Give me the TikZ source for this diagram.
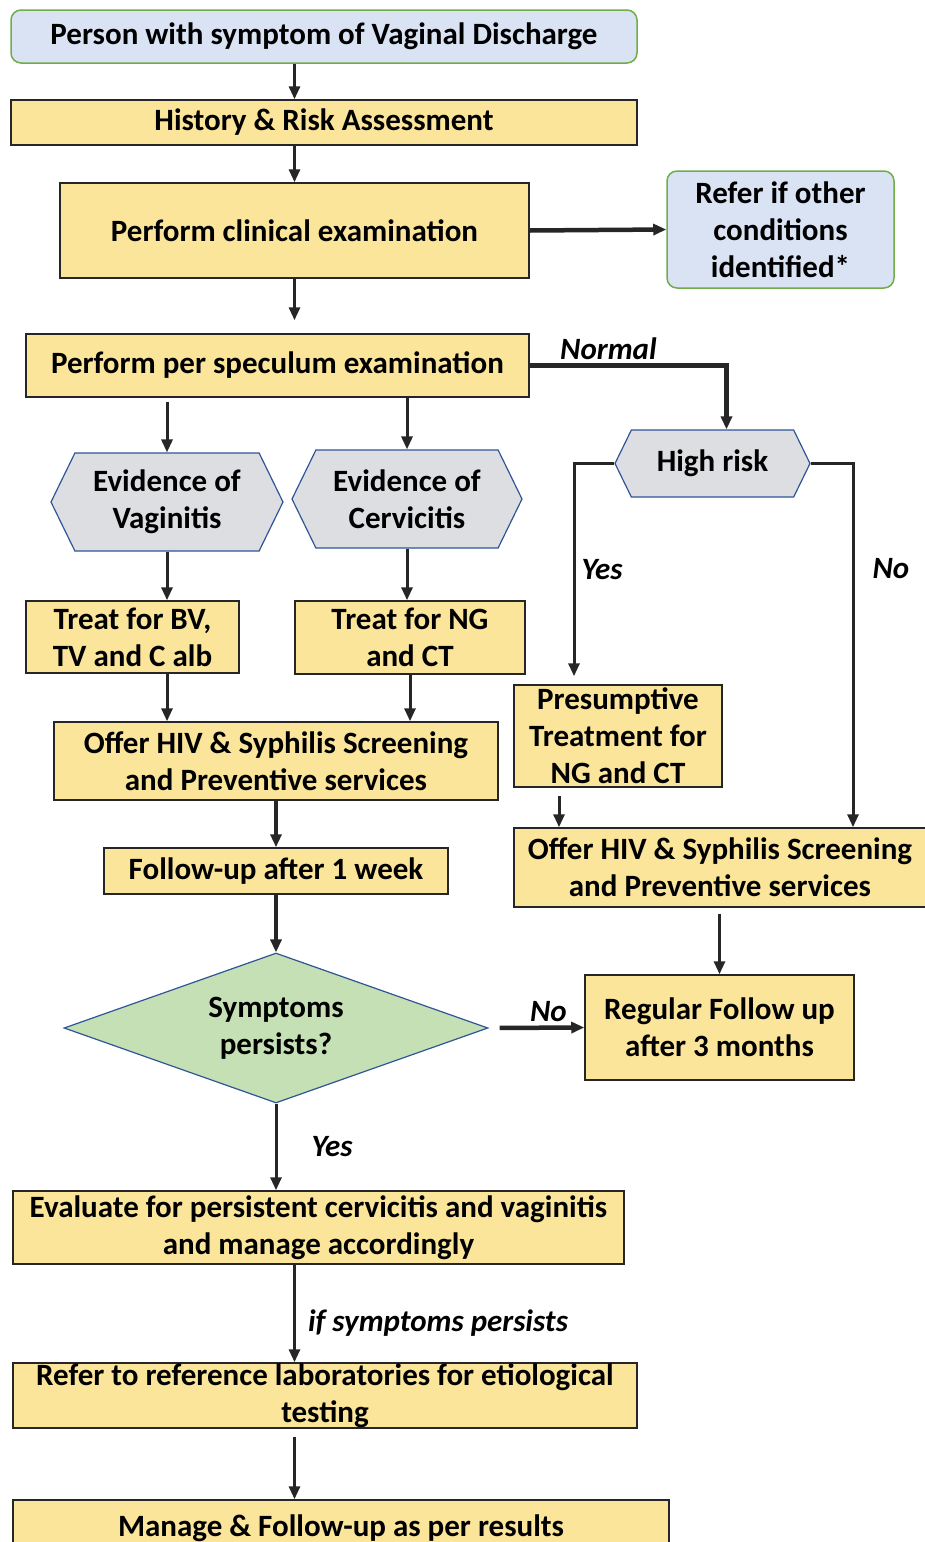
\documentclass[tikz,border=0pt]{standalone}
\usepackage{fontspec}
\setmainfont{Carlito}
\usetikzlibrary{shapes.geometric,shapes.symbols,arrows.meta}

\definecolor{boxyellow}{HTML}{FBE59A}
\definecolor{boxblue}{HTML}{DAE3F3}
\definecolor{boxgreen}{HTML}{70AD47}
\definecolor{hexgray}{HTML}{DCDEE2}
\definecolor{edgeblue}{HTML}{2F5597}
\definecolor{diagreen}{HTML}{C5E0B4}

\begin{document}
\begin{tikzpicture}[
	x=1pt,
	y=-1pt,
	align=center,
	font=\fontsize{31}{37}\selectfont\bfseries,
	>={Triangle[length=13pt,width=11pt]},
	box/.style={
		draw=black!85,
		line width=1.5pt,
		fill=boxyellow,
		inner sep=0pt
	},
	refbox/.style={
		draw=boxgreen,
		line width=1.5pt,
		fill=boxblue,
		rounded corners=10pt,
		inner sep=0pt
	},
	hexbox/.style={
		signal,
		signal to=east and west,
		signal pointer angle=128,
		draw=edgeblue,
		line width=1.2pt,
		fill=hexgray,
		inner sep=0pt
	},
	decision/.style={
		diamond,
		aspect=2.83,
		draw=edgeblue,
		line width=1.2pt,
		fill=diagreen,
		inner sep=0pt
	},
	arr/.style={->, line width=3pt, draw=black!85},
	arrthick/.style={->, line width=4.5pt, draw=black!85},
	lab/.style={font=\fontsize{31}{37}\selectfont\bfseries\itshape, inner sep=4pt}
	]
	\useasboundingbox (0,0) rectangle (924,1542);

	\node[refbox, minimum width=626pt, minimum height=53pt] (start) at (324,36.5) {Person with symptom of Vaginal Discharge};
	\node[box, minimum width=626pt, minimum height=45pt] (hist) at (324,122.5) {History \& Risk Assessment};
	\node[box, minimum width=469pt, minimum height=95pt] (clin) at (294.5,230.5) {Perform clinical examination};
	\node[refbox, minimum width=227pt, minimum height=117pt] (refer) at (780.5,229.5) {Refer if other\\conditions\\identified*};
	\node[box, minimum width=503pt, minimum height=63pt] (spec) at (277.5,365.5) {Perform per speculum examination};

	\node[hexbox, minimum width=232pt, minimum height=98pt] (vag) at (167,502) {Evidence of\\Vaginitis};
	\node[hexbox, minimum width=230pt, minimum height=98pt] (cerv) at (407,499) {Evidence of\\Cervicitis};
	\node[hexbox, minimum width=195pt, minimum height=67pt] (high) at (712.5,463.5) {High risk};

	\node[box, minimum width=213pt, minimum height=72pt] (bv) at (132.5,637) {Treat for BV,\\TV and C alb};
	\node[box, minimum width=230pt, minimum height=73pt] (ng) at (410,637.5) {Treat for NG\\and CT};
	\node[box, minimum width=444pt, minimum height=78pt] (offer1) at (276,761) {Offer HIV \& Syphilis Screening\\and Preventive services};
	\node[box, minimum width=208pt, minimum height=102pt] (presump) at (618,736) {Presumptive\\Treatment for\\NG and CT};
	\node[box, minimum width=412pt, minimum height=79pt] (offer2) at (720,867.5) {Offer HIV \& Syphilis Screening\\and Preventive services};
	\node[box, minimum width=344pt, minimum height=46pt] (follow) at (276,871) {Follow-up after 1 week};

	\node[decision, minimum width=424pt, minimum height=150pt] (diam) at (276,1028) {Symptoms\\persists?};
	\node[box, minimum width=269pt, minimum height=105pt] (reg) at (719.5,1027.5) {Regular Follow up\\after 3 months};

	\node[box, minimum width=611pt, minimum height=73pt] (eval) at (318.5,1227.5) {Evaluate for persistent cervicitis and vaginitis\\and manage accordingly};
	\node[box, minimum width=624pt, minimum height=65pt] (reflab) at (325,1395.5) {Refer to reference laboratories for etiological\\testing};
	\node[box, minimum width=656pt, minimum height=56pt] (manage) at (341,1528) {Manage \& Follow-up as per results};

	\draw[arr] (start.south -| clin) -- (hist.north -| clin);
	\draw[arr] (hist.south -| clin) -- (clin.north);
	\draw[arrthick] (clin.east) -- (refer.west);
	\draw[arr, shorten >=13pt] (clin.south) -- (spec.north -| clin);

	\draw[arr, shorten <=4pt] (spec.south -| vag) -- (vag.north);
	\draw[arr] (spec.south -| cerv) -- (cerv.north);
	\draw[arrthick] (spec.east) -| ([xshift=14pt]high.north) node[lab, pos=0.2, above] {Normal};

	\draw[arr] (high.west) -| ([xshift=-44pt]presump.north) [shorten >=8pt] node[lab, pos=0.74, right, xshift=2pt] {Yes};
	\draw[arr] (high.east) -| ([xshift=133pt]offer2.north) node[lab, pos=0.645, right, xshift=14pt] {No};

	\draw[arr] (vag.south) -- (bv.north -| vag);
	\draw[arr] (cerv.south) -- (ng.north -| cerv);
	\draw[arr] (bv.south -| vag) -- (offer1.north -| vag);
	\draw[arr] (ng.south) -- (offer1.north -| ng);
	\draw[arr, shorten <=8pt] ([xshift=-59pt]presump.south) -- ([xshift=-59pt]presump.south |- offer2.north);

	\draw[arrthick] (offer1.south) -- (follow.north);
	\draw[arrthick] (follow.south) -- (diam.north);
	\draw[arr, shorten <=6pt] (offer2.south -| reg) -- (reg.north);

	\draw[arrthick, shorten <=11pt] (diam.east) -- (reg.west) node[lab, midway, above, xshift=12pt] {No};
	\draw[arr] (diam.south) -- (eval.north -| diam) node[lab, midway, right, xshift=30pt] {Yes};

	\draw[arr] (eval.south -| clin) -- (reflab.north -| clin) node[lab, midway, right, xshift=8pt, yshift=-10pt] {if symptoms persists};
	\draw[arr, shorten <=8pt] (reflab.south -| clin) -- (manage.north -| clin);
\end{tikzpicture}
\end{document}
